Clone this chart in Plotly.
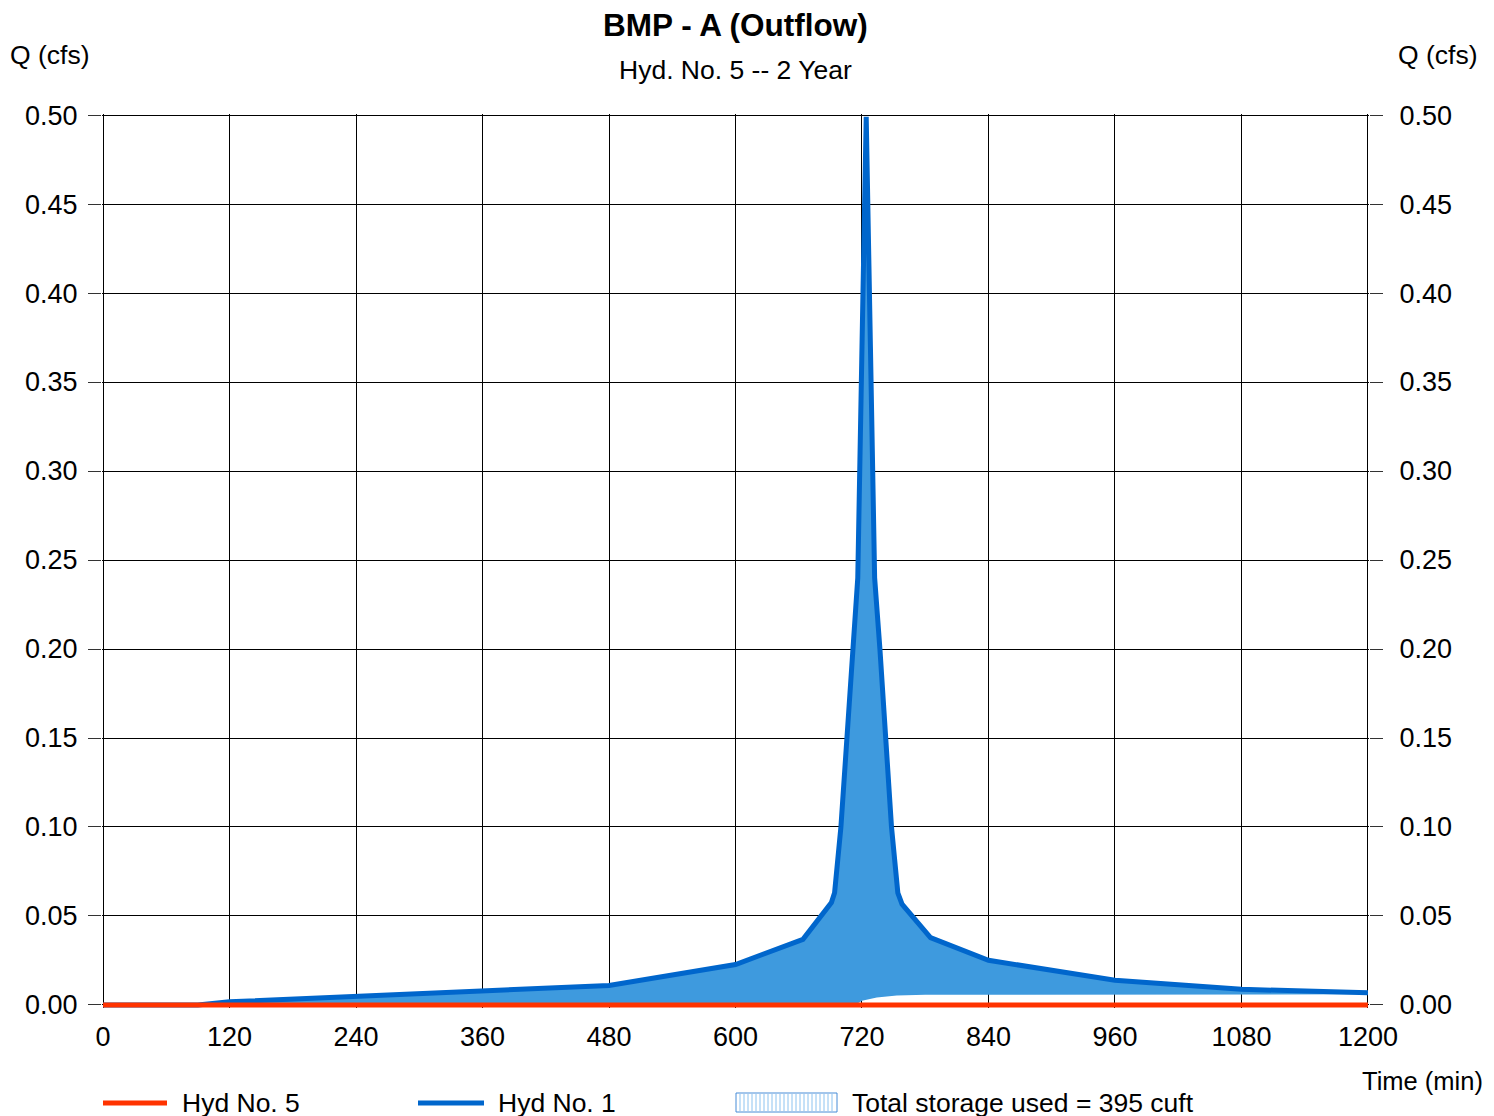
import plotly.graph_objects as go

# Hyd No. 1 (inflow hydrograph)
inflow_t = [0, 90, 120, 240, 360, 480, 600, 664, 691, 694, 700, 706, 712, 716,
            720, 724, 728, 732, 737, 742, 748, 754, 758, 785, 840, 960, 1080, 1200]
inflow_q = [0.0, 0.0, 0.0018, 0.0048, 0.0073, 0.0110, 0.0227, 0.0369, 0.0575, 0.063,
            0.100, 0.150, 0.200, 0.240, 0.370, 0.499, 0.370, 0.240, 0.200, 0.150,
            0.100, 0.063, 0.0566, 0.0378, 0.0251, 0.0139, 0.0088, 0.0069]

# lower edge of storage area
storage_t = [0, 708, 716, 720, 734, 753, 780, 840, 1200]
storage_q = [0.0, 0.0, 0.001, 0.0024, 0.0042, 0.0053, 0.0057, 0.0058, 0.0060]

# Hyd No. 5 (outflow)
outflow_t = [0, 1200]
outflow_q = [0.0, 0.0]

x_ticks = list(range(0, 1201, 120))
y_ticks = [round(i * 0.05, 2) for i in range(11)]

FONT = "Liberation Sans, Arial, sans-serif"
RED = "rgb(255,51,0)"
BLUE = "rgb(0,102,204)"
FILL = "rgb(62,154,222)"

# page has an 8px body margin, so figure is 8px smaller than the window
OFF = 8
# plot area edges in page pixels (ranges padded a little so edge gridlines show)
L, R, T, B = 102, 1369, 114, 1008
X_RANGE = [-1, 1201]
Y_RANGE = [-0.0017, 0.5006]


def px(x):
    return (x - L) / (R - L)


def py(y):
    return (B - y) / (B - T)


fig = go.Figure()
fig.add_trace(go.Scatter(x=storage_t, y=storage_q, mode="lines",
                         line=dict(width=0, color=FILL), showlegend=False,
                         hoverinfo="skip"))
fig.add_trace(go.Scatter(x=inflow_t, y=inflow_q, mode="lines", name="Hyd No. 1",
                         fill="tonexty", fillcolor=FILL,
                         line=dict(color=BLUE, width=5), showlegend=False))
fig.add_trace(go.Scatter(x=outflow_t, y=outflow_q, mode="lines", name="Hyd No. 5",
                         line=dict(color=RED, width=5), showlegend=False))
# right hand axis
fig.add_trace(go.Scatter(x=[0], y=[0], yaxis="y2", mode="markers",
                         marker=dict(opacity=0), showlegend=False, hoverinfo="skip"))

axis_font = dict(family=FONT, size=27, color="black")
W, H = 1494 - OFF, 1116 - OFF
fig.update_layout(
    width=W, height=H,
    margin=dict(l=L - OFF, r=W - (R - OFF), t=T - OFF, b=H - (B - OFF)),
    plot_bgcolor="white", paper_bgcolor="white",
    font=dict(family=FONT, size=26.5, color="black"),
    showlegend=False,
    xaxis=dict(range=X_RANGE, tickvals=x_ticks, showgrid=True, gridcolor="black",
               gridwidth=1, zeroline=False, showline=False, ticks="",
               tickfont=axis_font, ticklabelstandoff=10),
    yaxis=dict(range=Y_RANGE, tickvals=y_ticks, tickformat=".2f", showgrid=True,
               gridcolor="black", gridwidth=1, zeroline=False, showline=False,
               ticks="outside", ticklen=13, tickcolor="#333", tickfont=axis_font,
               ticklabelstandoff=5),
    yaxis2=dict(range=Y_RANGE, tickvals=y_ticks, tickformat=".2f", overlaying="y",
                side="right", showgrid=False, zeroline=False, showline=False,
                ticks="outside", ticklen=13, tickcolor="#333", tickfont=axis_font,
                ticklabelstandoff=11),
)

ann = [
    dict(text="<b>BMP - A (Outflow)</b>", x=0.5, y=py(25), font=dict(size=31.5)),
    dict(text="Hyd. No. 5 -- 2 Year", x=0.5, y=py(70)),
    dict(text="Q (cfs)", x=px(49.5), y=py(55)),
    dict(text="Q (cfs)", x=px(1437.5), y=py(55)),
    dict(text="Time (min)", x=px(1485), y=py(1081), xanchor="right",
         font=dict(size=25.5)),
    dict(text="Hyd No. 5", x=px(180), y=py(1103), xanchor="left"),
    dict(text="Hyd No. 1", x=px(496), y=py(1103), xanchor="left"),
    dict(text="Total storage used = 395 cuft", x=px(850), y=py(1103), xanchor="left"),
]
for a in ann:
    a.setdefault("xanchor", "center")
    fig.add_annotation(xref="paper", yref="paper", yanchor="middle",
                       showarrow=False, **a)

# legend swatches
fig.add_shape(type="line", xref="paper", yref="paper", x0=px(103), x1=px(167),
              y0=py(1103), y1=py(1103), line=dict(color=RED, width=5))
fig.add_shape(type="line", xref="paper", yref="paper", x0=px(418), x1=px(484),
              y0=py(1103), y1=py(1103), line=dict(color=BLUE, width=5))
fig.add_shape(type="rect", xref="paper", yref="paper", x0=px(736), x1=px(837),
              y0=py(1093), y1=py(1112), line=dict(color="rgb(70,140,215)", width=1),
              fillcolor="white")
for xp in range(740, 836, 4):
    fig.add_shape(type="line", xref="paper", yref="paper", x0=px(xp), x1=px(xp),
                  y0=py(1094), y1=py(1111),
                  line=dict(color="rgb(140,195,240)", width=1))

fig.write_html("out.html")
